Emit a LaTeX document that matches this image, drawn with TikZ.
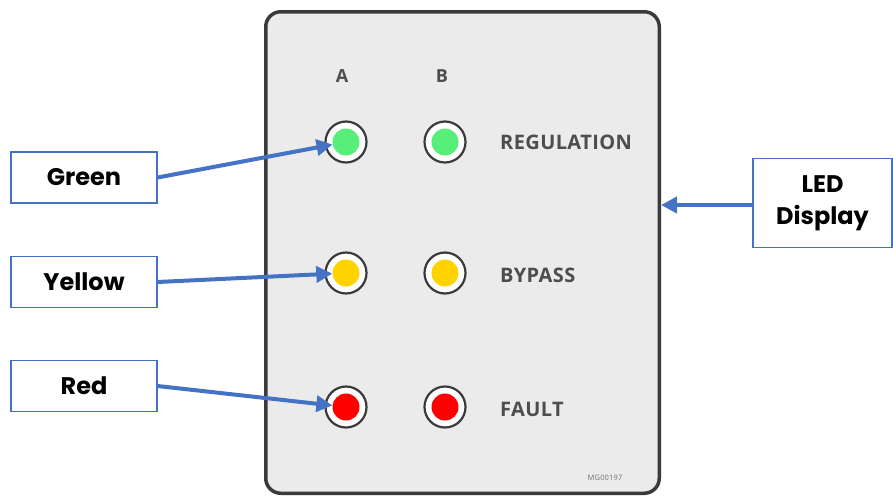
\documentclass[tikz,border=0pt]{standalone}
\usepackage{fontspec}
\setmainfont{Poppins}
\newfontfamily\panelfont[LetterSpace=2]{Open Sans}
\usetikzlibrary{arrows.meta}
\definecolor{boxblue}{HTML}{4472C4}
\definecolor{panelfill}{HTML}{EBEBEB}
\definecolor{paneledge}{HTML}{3A3A3A}
\definecolor{paneltext}{HTML}{4D4D4D}
\definecolor{ledgreen}{HTML}{58EE7A}
\definecolor{ledyellow}{HTML}{FFD200}
\definecolor{ledred}{HTML}{FF0000}
\tikzset{
  labelbox/.style={draw=boxblue, line width=1.3pt, fill=white, minimum width=146pt, minimum height=51pt, font=\bfseries\fontsize{24}{28}\selectfont, inner sep=0pt},
  ledring/.style={circle, draw=paneledge, line width=2.2pt, fill=white, minimum size=41pt, inner sep=0pt},
  ledcore/.style={circle, fill=#1, minimum size=27pt, inner sep=0pt},
  paneltxt/.style={text=paneltext, font=\panelfont\bfseries\fontsize{20}{23}\selectfont, inner sep=0pt},
  pointer/.style={draw=boxblue, line width=4pt, -{Triangle[length=16pt,width=16pt]}},
}
\begin{document}
\begin{tikzpicture}[x=1pt,y=-1pt]
\useasboundingbox (0,0) rectangle (893,498);
% panel
\node[draw=paneledge, line width=3.5pt, rounded corners=15pt, fill=panelfill, minimum width=393.5pt, minimum height=481.5pt, inner sep=0pt] (panel) at (462.5,252.5) {};
% column labels
\node[paneltxt, font=\panelfont\bfseries\fontsize{18}{20}\selectfont] (colA) at (342,76) {A};
\node[paneltxt, font=\panelfont\bfseries\fontsize{18}{20}\selectfont] (colB) at (442,76) {B};
% LEDs
\node[ledring] (gra) at (346,142) {};
\node[ledcore=ledgreen] (ga) at (346,142) {};
\node[ledring] (grb) at (445,142) {};
\node[ledcore=ledgreen] (gb) at (445,142) {};
\node[ledring] (yra) at (346,273) {};
\node[ledcore=ledyellow] (ya) at (346,273) {};
\node[ledring] (yrb) at (445,273) {};
\node[ledcore=ledyellow] (yb) at (445,273) {};
\node[ledring] (rra) at (346,407) {};
\node[ledcore=ledred] (ra) at (346,407) {};
\node[ledring] (rrb) at (445,407) {};
\node[ledcore=ledred] (rb) at (445,407) {};
% row labels
\node[paneltxt, anchor=west] (reg) at (500,142) {REGULATION};
\node[paneltxt, anchor=west] (byp) at (500,275) {BYPASS};
\node[paneltxt, anchor=west] (flt) at (500,409) {FAULT};
\node[text=paneltext!80, font=\panelfont\fontsize{7.5}{8}\selectfont, inner sep=0pt] (code) at (605,478) {MG00197};
% label boxes
\node[labelbox] (green) at (84,177.5) {Green};
\node[labelbox] (yellow) at (84,282) {Yellow};
\node[labelbox] (red) at (84,386) {Red};
\node[labelbox, minimum width=139pt, minimum height=89pt, align=center, font=\bfseries\fontsize{24}{32}\selectfont] (led) at (822.5,203) {LED\\Display};
% pointers
\draw[pointer] (green.east) -- (ga);
\draw[pointer] (yellow.east) -- (ya);
\draw[pointer] (red.east) -- (ra);
\draw[pointer] ([yshift=-2pt]led.west) -- ([yshift=-2pt]led.west -| panel.east);
\end{tikzpicture}
\end{document}
